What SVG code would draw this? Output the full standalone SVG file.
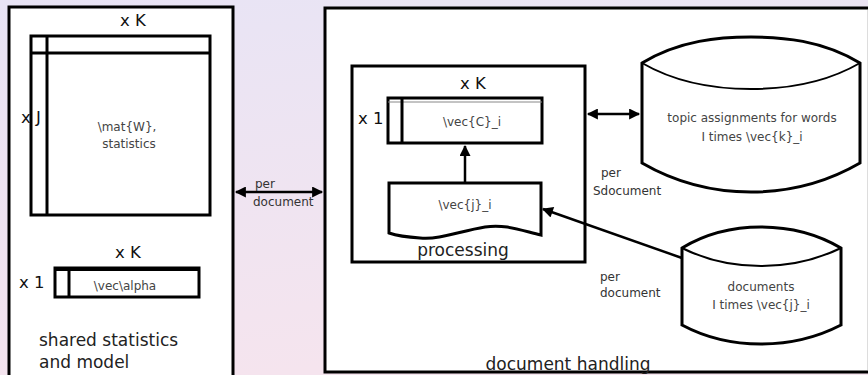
<svg xmlns="http://www.w3.org/2000/svg" width="868" height="375" viewBox="0 0 868 375">
  <defs>
    <linearGradient id="bg" x1="0" y1="0" x2="0.3" y2="1">
      <stop offset="0" stop-color="#e8e4f5"/>
      <stop offset="1" stop-color="#f5e4ee"/>
    </linearGradient>
    <marker id="head" viewBox="0 0 10 10" refX="9" refY="5" markerWidth="5" markerHeight="4.4" orient="auto-start-reverse" markerUnits="strokeWidth">
      <path d="M0,0 L10,5 L0,10 z" fill="#000"/>
    </marker>
    <style>
      .box { fill: #fff; stroke: #000; stroke-width: 3; }
      .ln { fill: none; stroke: #000; stroke-width: 3; }
      .thin { fill: none; stroke: #000; stroke-width: 2; }
      .con { fill: none; stroke: #000; stroke-width: 2.5; }
      text { font-family: "DejaVu Sans", "Liberation Sans", sans-serif; fill: #000; }
      .dim { font-size: 16.5px; fill: #111; }
      .lbl { font-size: 12px; fill: #444; text-anchor: middle; }
      .note { font-size: 12px; fill: #333; }
      .title { font-size: 17px; fill: #222; }
    </style>
  </defs>

  <rect x="0" y="0" width="868" height="375" fill="url(#bg)"/>

  <!-- shared statistics and model -->
  <g id="shared">
    <rect class="box" x="9" y="7" width="224" height="380"/>
    <text class="dim" x="133" y="26" text-anchor="middle">x K</text>
    <rect class="box" x="31" y="36" width="179" height="179"/>
    <line class="ln" x1="31" y1="53" x2="210" y2="53"/>
    <line class="ln" x1="47" y1="36" x2="47" y2="215"/>
    <text class="dim" x="21" y="123">x J</text>
    <text class="lbl" x="127" y="131">\mat{W},</text>
    <text class="lbl" x="129" y="148">statistics</text>
    <text class="dim" x="128" y="258" text-anchor="middle">x K</text>
    <text class="dim" x="19" y="288">x 1</text>
    <rect class="box" x="55" y="268" width="144" height="29"/>
    <line x1="55" y1="269" x2="199" y2="269" stroke="#000" stroke-width="4"/>
    <line class="ln" x1="69" y1="268" x2="69" y2="297"/>
    <text class="lbl" x="125" y="290">\vec\alpha</text>
    <text class="title" x="39" y="346">shared statistics</text>
    <text class="title" x="39" y="368">and model</text>
  </g>

  <!-- document handling -->
  <g id="handling">
    <rect class="box" x="325" y="8" width="560" height="364"/>
    <line x1="867.5" y1="10" x2="867.5" y2="370" stroke="#ddd" stroke-width="1"/>
    <text class="title" x="568" y="370" text-anchor="middle">document handling</text>
  </g>

  <g id="processing">
    <rect class="box" x="352" y="66" width="233" height="196"/>
    <text class="dim" x="473" y="89" text-anchor="middle">x K</text>
    <text class="title" x="463" y="256" text-anchor="middle">processing</text>
  </g>

  <g id="counts">
    <text class="dim" x="358" y="124">x 1</text>
    <rect class="box" x="388" y="98" width="154" height="45"/>
    <line x1="388" y1="102" x2="542" y2="102" stroke="#888" stroke-width="1"/>
    <line class="ln" x1="402" y1="98" x2="402" y2="143"/>
    <text class="lbl" x="472" y="126">\vec{C}_i</text>
  </g>

  <g id="doc">
    <path class="box" d="M389,183 H541 V235 C520,230 505,224 485,227 C460,231 440,240 420,238 C405,237 395,235 389,233 Z"/>
    <text class="lbl" x="465" y="209">\vec{j}_i</text>
  </g>

  <g id="topics">
    <path class="box" d="M642,63 C680,40 720,37 751,37 C782,37 822,40 860,63 V163 C822,185 782,192 751,192 C720,192 680,185 642,163 Z"/>
    <path class="thin" d="M642,63 C680,85 720,89 751,89 C782,89 822,85 860,63"/>
    <text class="lbl" x="752" y="122">topic assignments for words</text>
    <text class="lbl" x="752" y="141">I times \vec{k}_i</text>
  </g>

  <g id="documents">
    <path class="box" d="M682,248 C710,231 740,227 761,227 C782,227 812,231 841,248 V325 C812,340 782,344 761,344 C740,344 710,340 682,325 Z"/>
    <path class="thin" d="M682,248 C710,262 740,266 761,266 C782,266 812,262 841,248"/>
    <text class="lbl" x="761" y="291">documents</text>
    <text class="lbl" x="761" y="309">I times \vec{j}_i</text>
  </g>

  <!-- connectors -->
  <g id="connectors">
    <line class="con" x1="236" y1="192" x2="322" y2="192" marker-start="url(#head)" marker-end="url(#head)"/>
    <line class="con" x1="588" y1="114" x2="639" y2="114" marker-start="url(#head)" marker-end="url(#head)"/>
    <line class="con" x1="465" y1="183" x2="465" y2="146" marker-end="url(#head)"/>
    <line class="con" x1="682" y1="258" x2="543" y2="209" marker-end="url(#head)"/>
    <text class="note" x="255" y="188">per</text>
    <text class="note" x="253" y="206">document</text>
    <text class="note" x="601" y="177">per</text>
    <text class="note" x="593" y="195">Sdocument</text>
    <text class="note" x="600" y="281">per</text>
    <text class="note" x="600" y="297">document</text>
  </g>
</svg>
